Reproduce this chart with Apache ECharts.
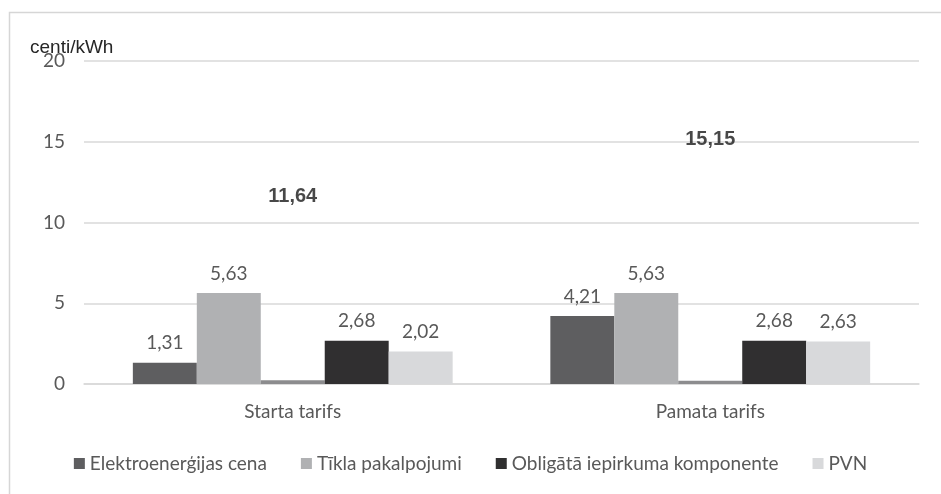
<!DOCTYPE html>
<html>
<head>
<meta charset="utf-8">
<script src="https://cdn.jsdelivr.net/npm/echarts@6/dist/echarts.min.js"></script>
<style>
  html, body { margin: 0; padding: 0; background: #fff; }
  #chart { width: 941px; height: 494px; }
</style>
</head>
<body>
<div id="chart"></div>
<script>
// Tariff categories and price components (centi/kWh)
const categories = ['Starta tarifs', 'Pamata tarifs'];
const seriesNames = ['Elektroenerģijas cena', 'Tīkla pakalpojumi', 'Obligātā iepirkuma komponente', 'PVN'];
const electricity = [1.31, 4.21];
const network = [5.63, 5.63];
const mandatoryProcurement = [2.68, 2.68];
const vat = [2.02, 2.63];
// Small marker bar sitting under the total label of each tariff
const totalMarker = [0.23, 0.2];
const yTicks = [0, 5, 10, 15, 20];

const totals = categories.map((_, i) =>
  +(electricity[i] + network[i] + mandatoryProcurement[i] + vat[i]).toFixed(2));

const fmt = v => v.toFixed(2).replace('.', ',');
const labelFont = 'Lato, "Open Sans", sans-serif';

const valueLabel = {
  show: true,
  position: 'top',
  distance: 10,
  color: '#595959',
  fontFamily: labelFont,
  fontSize: 19,
  formatter: p => fmt(p.value)
};

function barSeries(name, data, color) {
  return {
    name, type: 'bar', data,
    itemStyle: { color },
    label: valueLabel,
    barGap: '0%',
    barCategoryGap: '23.4%'
  };
}

const chart = echarts.init(document.getElementById('chart'), null, { renderer: 'canvas' });

chart.setOption({
  animation: false,
  backgroundColor: '#fff',
  graphic: [{
    type: 'rect',
    shape: { x: 9.5, y: 12.5, width: 960, height: 500 },
    style: { fill: 'none', stroke: '#d6d6d6', lineWidth: 1.5 },
    silent: true
  }],
  title: {
    text: 'centi/kWh',
    left: 25,
    top: 33,
    textStyle: { fontFamily: '"Liberation Sans", Arial, sans-serif', fontSize: 19, fontWeight: 'normal', color: '#262626' }
  },
  grid: { left: 84, right: 22, top: 61, bottom: 110, containLabel: false },
  legend: {
    data: seriesNames,
    bottom: 16,
    left: 'center',
    icon: 'rect',
    itemWidth: 11,
    itemHeight: 11,
    itemGap: 34,
    textStyle: { fontFamily: labelFont, fontSize: 19, color: '#595959' }
  },
  xAxis: {
    type: 'category',
    data: categories,
    axisLine: { lineStyle: { color: '#d9d9d9', width: 1.5 } },
    axisTick: { show: false },
    axisLabel: { color: '#595959', fontFamily: labelFont, fontSize: 19, margin: 18 }
  },
  yAxis: {
    type: 'value',
    min: yTicks[0],
    max: yTicks[yTicks.length - 1],
    interval: yTicks[1] - yTicks[0],
    axisLine: { show: false },
    axisTick: { show: false },
    splitLine: { lineStyle: { color: '#d9d9d9', width: 1.5 } },
    axisLabel: { color: '#595959', fontFamily: labelFont, fontSize: 19, margin: 19 }
  },
  series: [
    barSeries(seriesNames[0], electricity, '#5e5e60'),
    barSeries(seriesNames[1], network, '#b0b1b3'),
    {
      name: 'Kopā',
      type: 'bar',
      data: totalMarker,
      itemStyle: { color: '#8c8c8e' },
      barGap: '0%',
      barCategoryGap: '23.4%'
    },
    barSeries(seriesNames[2], mandatoryProcurement, '#302f30'),
    barSeries(seriesNames[3], vat, '#d8d9db'),
    {
      name: 'Kopā (summa)',
      type: 'scatter',
      data: totals,
      symbolSize: 0,
      z: 5,
      label: {
        show: true,
        position: 'inside',
        color: '#1a1a1a',
        fontFamily: '"Liberation Sans", Arial, sans-serif',
        fontWeight: 'bold',
        fontSize: 20,
        formatter: p => fmt(p.value)
      }
    }
  ]
});
</script>
</body>
</html>
